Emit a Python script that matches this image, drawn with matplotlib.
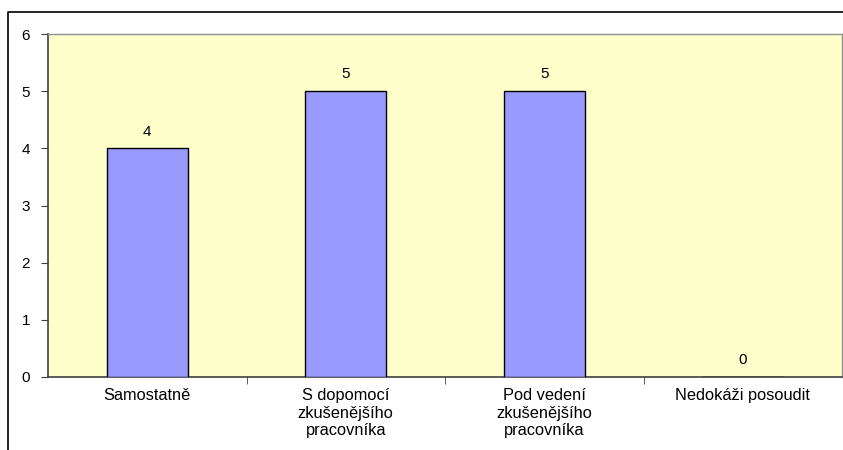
import matplotlib.pyplot as plt
import matplotlib as mpl
from matplotlib.lines import Line2D

mpl.rcParams['font.family'] = 'Liberation Sans'
mpl.rcParams['font.size'] = 11

categories = ["Samostatně", "S dopomocí\nzkušenějšího\npracovníka",
              "Pod vedení\nzkušenějšího\npracovníka", "Nedokáži posoudit"]
values = [4, 5, 5, 0]
yticks = [0, 1, 2, 3, 4, 5, 6]

fig = plt.figure(figsize=(8.43, 4.5), dpi=100)
ax = fig.add_axes([48 / 843, 1 - 377 / 450, (842 - 48) / 843, (377 - 34) / 450])
ax.set_facecolor('#FFFFCC')

x = range(len(categories))
bars = ax.bar(x, values, width=0.41, color='#9999FF', edgecolor='black', linewidth=1.0, zorder=3)
for xi, v in zip(x, values):
    ax.annotate(str(v), (xi, v), xytext=(0, 7), textcoords='offset points',
                ha='center', va='bottom', fontsize=11)

ax.set_xlim(-0.5, len(categories) - 0.5)
ax.set_ylim(0, 6)
ax.set_yticks(yticks)
ax.set_xticks(x)
ax.set_xticklabels(categories, linespacing=1.2, fontsize=11.8)
ax.tick_params(axis='x', length=0, pad=8)
ax.set_xticks([0.5, 1.5, 2.5], minor=True)
ax.tick_params(axis='x', which='minor', length=5, color='#404040', direction='out')
ax.tick_params(axis='y', length=5, color='#404040', pad=8, labelsize=11)

for side in ['left', 'bottom']:
    ax.spines[side].set_color('#404040')
    ax.spines[side].set_linewidth(1.2)
for side in ['top', 'right']:
    ax.spines[side].set_color('#909090')
    ax.spines[side].set_linewidth(1.0)

# chart frame, clipped on the right and bottom
frame = Line2D([8 / 843, 8 / 843, 1.0], [0.0, 1 - 12 / 450, 1 - 12 / 450],
               transform=fig.transFigure, color='black', linewidth=1.2)
fig.add_artist(frame)

fig.savefig('out.png', dpi=100)
